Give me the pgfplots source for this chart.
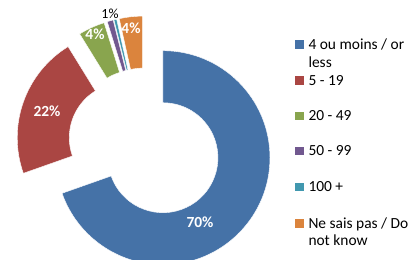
\documentclass[border=0pt]{standalone}
\usepackage{fontspec}
\setmainfont{Carlito}
\usepackage{pgfplots}
\pgfplotsset{compat=1.18}
\definecolor{cBlue}{HTML}{4572A7}
\definecolor{cRed}{HTML}{AA4643}
\definecolor{cGreen}{HTML}{89A54E}
\definecolor{cPurple}{HTML}{71588F}
\definecolor{cTeal}{HTML}{4198AF}
\definecolor{cOrange}{HTML}{DB843D}
% donut centre (axis units = bp), explosion, radii
\newcommand{\slice}[3]{\pgfplotsextra{%
 \pgfmathsetmacro\ta{90-3.6*#1}%
 \pgfmathsetmacro\tb{90-3.6*#2}%
 \pgfmathsetmacro\tm{(\ta+\tb)/2}%
 \pgfmathsetmacro\cx{145+22*cos(\tm)}%
 \pgfmathsetmacro\cy{115+22*sin(\tm)}%
 \coordinate (sc) at (axis cs:\cx,\cy);%
 \fill[#3, draw=white, line width=0.4bp] ([shift={(\ta:107bp)}]sc) arc[start angle=\ta, end angle=\tb, radius=107bp] -- ([shift={(\tb:55bp)}]sc) arc[start angle=\tb, end angle=\ta, radius=55bp] -- cycle;%
}}
\newcommand{\legfont}{\fontsize{15.5}{18}\selectfont}
\newcommand{\legkey}[3]{% y baseline, color, text
 \fill[#2] (axis cs:295,#1+0.3) rectangle (axis cs:304,#1+9);
 \node[anchor=base west, inner sep=0pt, font=\legfont] at (axis cs:308.3,#1) {#3};
}
\begin{document}
\begin{tikzpicture}
\begin{axis}[hide axis, scale only axis, width=420bp, height=260bp,
  xmin=0, xmax=420, ymin=0, ymax=260]
\coordinate (BL) at (axis cs:0,0);
\coordinate (TR) at (axis cs:420,260);
% percentages (cumulative start, end)
\slice{0}{69.6}{cBlue}
\slice{69.6}{91.2}{cRed}
\slice{91.2}{95.2}{cGreen}
\slice{95.2}{96.1}{cPurple}
\slice{96.1}{96.5}{cTeal}
\slice{96.5}{100}{cOrange}
\node[text=white, font=\fontsize{15.5}{18}\bfseries\selectfont, inner sep=0pt] at (axis cs:200,38) {70\%};
\node[text=white, font=\fontsize{15.5}{18}\bfseries\selectfont, inner sep=0pt] at (axis cs:47,149) {22\%};
\node[text=white, font=\fontsize{15.5}{18}\bfseries\selectfont, inner sep=0pt] at (axis cs:95,226) {4\%};
\node[text=white, font=\fontsize{15.5}{18}\bfseries\selectfont, inner sep=0pt] at (axis cs:131,232) {4\%};
\node[text=black, font=\fontsize{14}{17}\selectfont, inner sep=0pt] at (axis cs:110,246.5) {1\%};
\legkey{211}{cBlue}{4 ou moins / or}
\node[anchor=base west, inner sep=0pt, font=\legfont] at (axis cs:308.3,192.3) {less};
\legkey{175}{cRed}{5 - 19}
\legkey{139.3}{cGreen}{20 - 49}
\legkey{104.3}{cPurple}{50 - 99}
\legkey{68.3}{cTeal}{100 +}
\legkey{31.7}{cOrange}{Ne sais pas / Do}
\node[anchor=base west, inner sep=0pt, font=\legfont] at (axis cs:308.3,14.3) {not know};
\end{axis}
\pgfresetboundingbox
\useasboundingbox (BL) rectangle (TR);
\end{tikzpicture}
\end{document}
